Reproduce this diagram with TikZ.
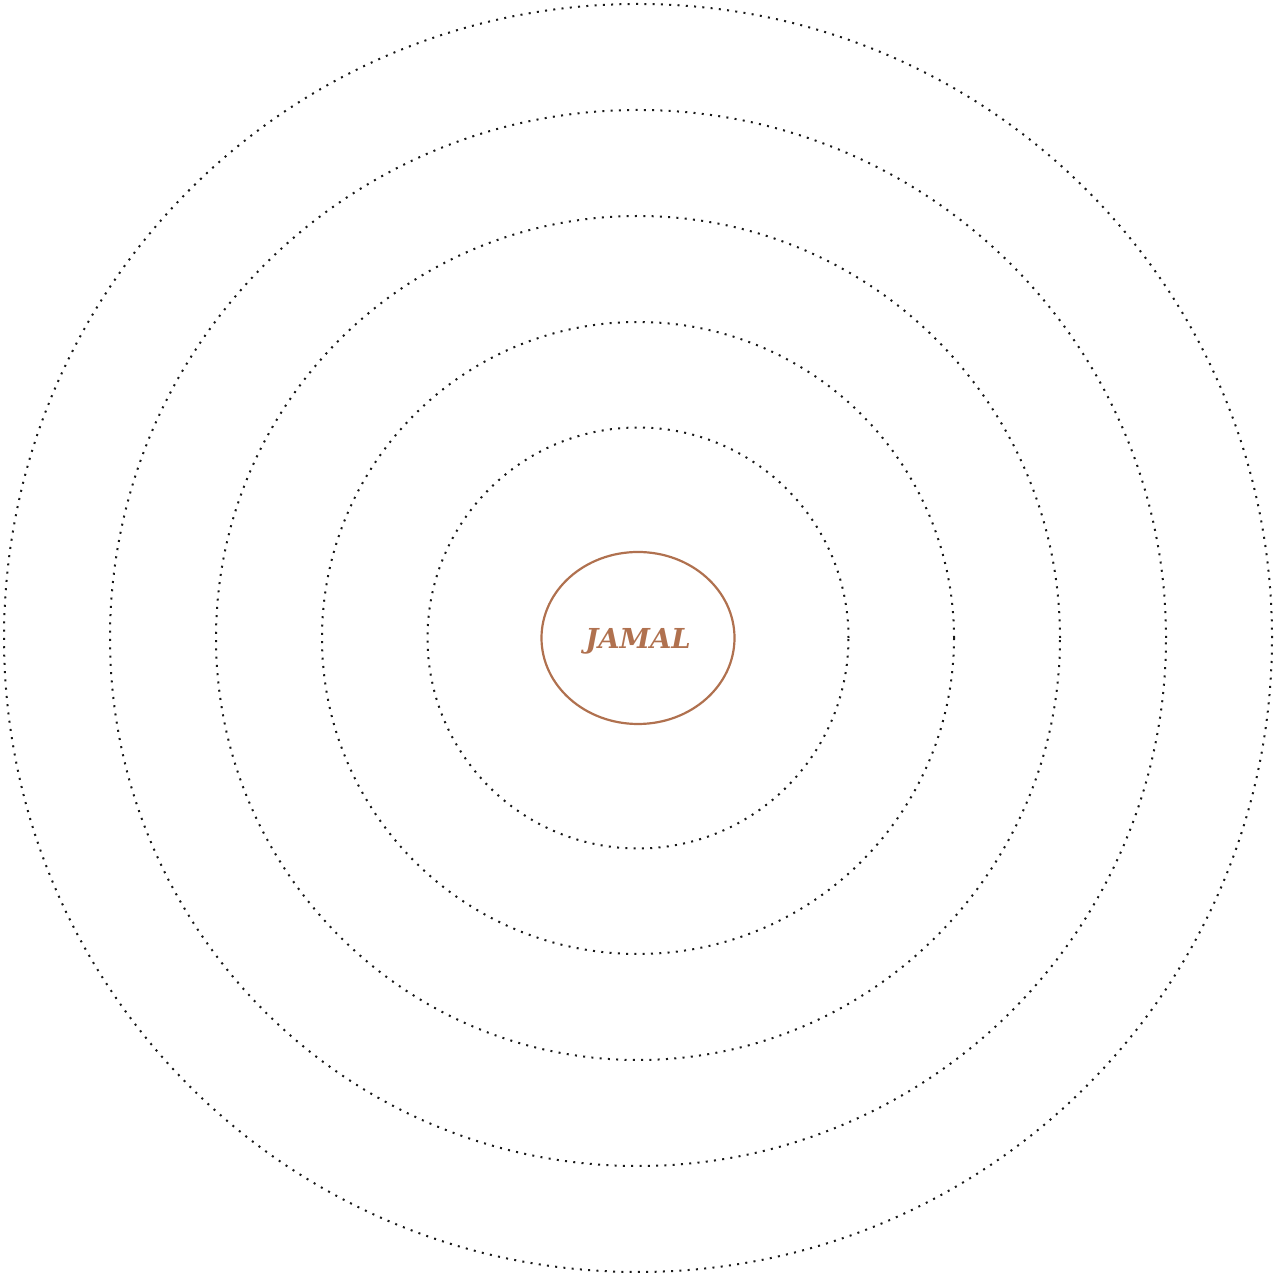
\documentclass[tikz,border=0pt]{standalone}
\usepackage{fontspec}
\usetikzlibrary{shapes.geometric}
\newfontfamily\slabfont{DejaVu Serif}
\definecolor{jamal}{HTML}{B0714F}
\begin{document}
\begin{tikzpicture}[x=1pt,y=1pt,
  ring/.style={draw=black!90, line width=2pt, dash pattern=on 2pt off 6.3pt},
  core/.style={draw=jamal, line width=2.2pt, ellipse, minimum width=193pt, minimum height=172pt, inner sep=0pt}]
\useasboundingbox (0,0) rectangle (1275,1275);
\coordinate (c) at (638,637);
\foreach \r in {634,528,422,316,210.5}{
  \draw[ring] (c) circle[radius=\r];
}
\node[core, font=\slabfont\bfseries\itshape\fontsize{27.5}{32}\selectfont, text=jamal, text depth=0pt] (jamal) at (c) {JAMAL};
\end{tikzpicture}
\end{document}
